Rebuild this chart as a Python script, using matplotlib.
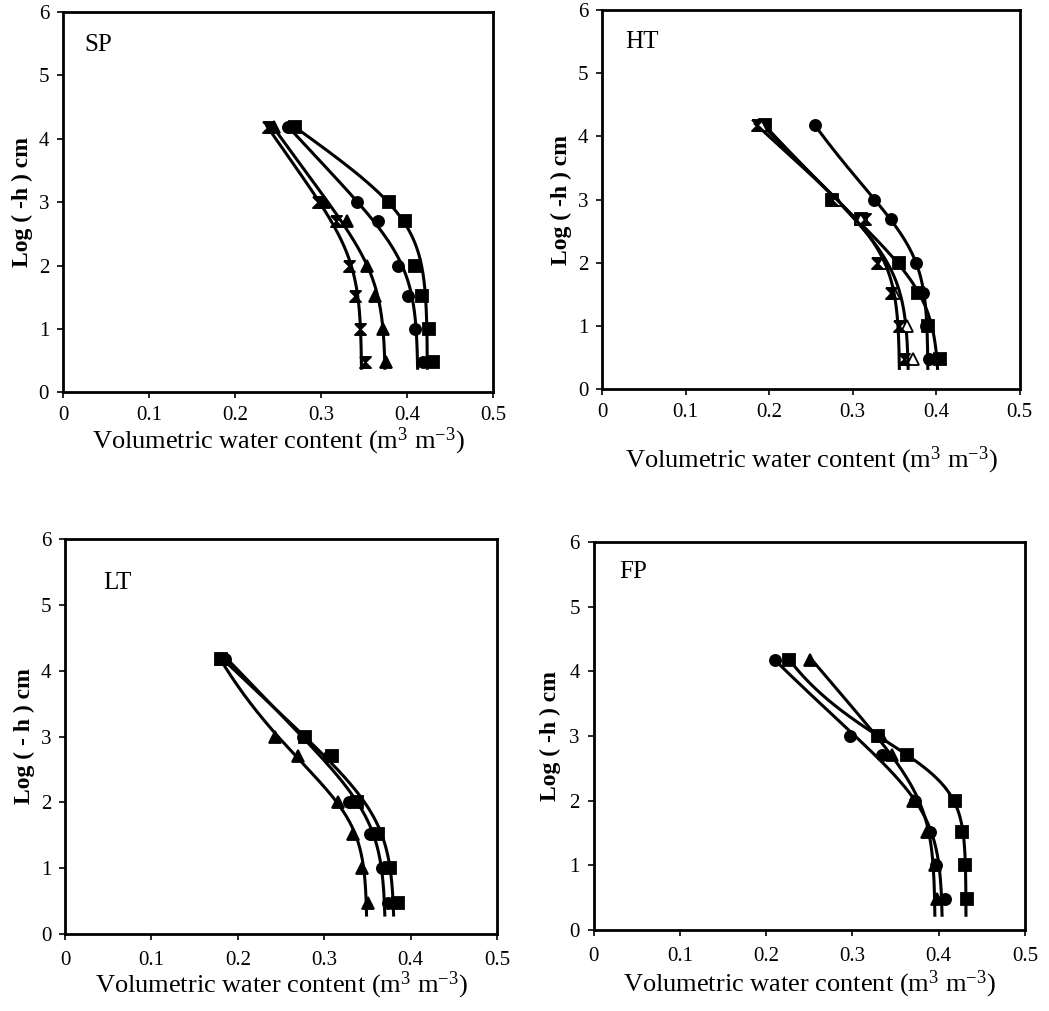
import numpy as np
import matplotlib
matplotlib.use("Agg")
import matplotlib.pyplot as plt

plt.rcParams['font.family'] = 'Liberation Serif'
plt.rcParams['mathtext.fontset'] = 'custom'
plt.rcParams['mathtext.rm'] = 'Liberation Serif'
plt.rcParams['mathtext.it'] = 'Liberation Serif:italic'

# suction levels, log10(-h) in cm (3, 10, 33, 100, 500, 1000, 15000 cm)
log_h = [0.48, 1.0, 1.52, 2.0, 2.7, 3.0, 4.18]

# SP
sp_square = [0.430, 0.426, 0.417, 0.409, 0.398, 0.379, 0.270]
sp_circle = [0.419, 0.409, 0.401, 0.390, 0.366, 0.342, 0.262]
sp_triangle = [0.376, 0.372, 0.363, 0.353, 0.330, 0.303, 0.245]
sp_star = [0.351, 0.345, 0.340, 0.332, 0.317, 0.296, 0.238]

# HT
ht_circle = [0.392, 0.388, 0.384, 0.376, 0.346, 0.325, 0.255]
ht_square = [0.405, 0.390, 0.378, 0.355, 0.310, 0.275, 0.195]
ht_triangle = [0.372, 0.365, 0.350, 0.335, 0.310, 0.280, 0.190]
ht_star = [0.362, 0.355, 0.346, 0.329, 0.315, 0.275, 0.185]

# LT
lt_square = [0.385, 0.376, 0.362, 0.338, 0.309, 0.278, 0.180]
lt_circle = [0.374, 0.367, 0.353, 0.328, 0.305, 0.275, 0.185]
lt_triangle = [0.351, 0.344, 0.333, 0.316, 0.270, 0.243, 0.180]

# FP
fp_square = [0.433, 0.430, 0.427, 0.419, 0.363, 0.330, 0.227]
fp_circle = [0.407, 0.397, 0.390, 0.372, 0.334, 0.297, 0.210]
fp_triangle = [0.398, 0.396, 0.386, 0.370, 0.346, 0.333, 0.251]

x_ticks = [0, 0.1, 0.2, 0.3, 0.4, 0.5]
x_tick_labels = ['0', '0.1', '0.2', '0.3', '0.4', '0.5']
y_ticks = [0, 1, 2, 3, 4, 5, 6]

# hourglass marker (x with bars), like the scanned "star" symbol
hourglass = [(-1, 1), (1, 1), (-1, -1), (1, -1), (-1, 1)]


def fit_vg(logh, theta):
    # van Genuchten fit: grid over alpha, n; theta_r, theta_s by least squares
    h = 10 ** np.asarray(logh)
    th = np.asarray(theta)
    la, nn = np.meshgrid(np.linspace(-4, 0.5, 181), np.linspace(1.02, 6, 250))
    a = 10 ** la.ravel()
    n = nn.ravel()
    S = (1 + (a[:, None] * h[None, :]) ** n[:, None]) ** (-(1 - 1 / n[:, None]))
    u = 1 - S
    v = S
    uu = (u * u).sum(1); uv = (u * v).sum(1); vv = (v * v).sum(1)
    ut = (u * th).sum(1); vt = (v * th).sum(1)
    det = uu * vv - uv ** 2
    det[np.abs(det) < 1e-12] = np.nan
    r = (vv * ut - uv * vt) / det
    s = (uu * vt - uv * ut) / det
    res = ((r[:, None] * u + s[:, None] * v - th[None, :]) ** 2).sum(1)
    res[~np.isfinite(res)] = np.inf
    k = np.argmin(res)
    return r[k], s[k], a[k], n[k]


def vg_curve(params, y):
    r, s, a, n = params
    h = 10 ** y
    return r + (s - r) * (1 + (a * h) ** n) ** (-(1 - 1 / n))


panels = [
    ('SP', [0.060, 0.612, 0.410, 0.376], 0.38, 'Log ( -h ) cm', (0.025, 5.48),
     [(sp_square, 's', 'k'), (sp_circle, 'o', 'k'), (sp_triangle, '^', 'k'), (sp_star, hourglass, 'k')]),
    ('HT', [0.574, 0.615, 0.398, 0.375], 0.33, 'Log ( -h ) cm', (0.028, 5.49),
     [(ht_circle, 'o', 'k'), (ht_square, 's', 'k'), (ht_triangle, '^', 'w'), (ht_star, hourglass, 'k')]),
    ('LT', [0.062, 0.076, 0.412, 0.391], 0.29, 'Log ( - h ) cm', (0.044, 5.33),
     [(lt_square, 's', 'k'), (lt_circle, 'o', 'k'), (lt_triangle, '^', 'k')]),
    ('FP', [0.566, 0.080, 0.411, 0.384], 0.23, 'Log ( -h ) cm', (0.030, 5.53),
     [(fp_square, 's', 'k'), (fp_circle, 'o', 'k'), (fp_triangle, '^', 'k')]),
]
xtick_pads = [6, 6, 8, 8]
xlabel_pads = [0, 16, 0, 2]
ylabel_pads = [4, 4, 4, 6]

fig = plt.figure(figsize=(10.49, 10.11), dpi=100)

for i, (name, rect, y_lo, ylab, tpos, series) in enumerate(panels):
    ax = fig.add_axes(rect)
    y_line = np.linspace(y_lo, 4.2, 200)
    for vals, mk, fc in series:
        p = fit_vg(log_h, vals)
        ax.plot(vg_curve(p, y_line), y_line, color='black', lw=2.2)
        ax.plot(vals, log_h, linestyle='none', marker=mk, markersize=8,
                markerfacecolor=fc, markeredgecolor='black', markeredgewidth=1.3)
    ax.set_xlim(0, 0.5)
    ax.set_ylim(0, 6)
    ax.set_xticks(x_ticks)
    ax.set_xticklabels(x_tick_labels)
    ax.set_yticks(y_ticks)
    ax.tick_params(direction='out', length=4, width=1.2, labelsize=15)
    ax.tick_params(axis='x', pad=xtick_pads[i])
    ax.tick_params(axis='y', pad=6)
    for sp in ax.spines.values():
        sp.set_linewidth(2.0)
    ax.text(tpos[0], tpos[1], name, fontsize=18, ha='left', va='center')
    ax.set_xlabel('Volumetric water content (m$^{3}$ m$^{-3}$)', fontsize=19,
                  labelpad=xlabel_pads[i])
    ax.set_ylabel(ylab, fontsize=17, fontweight='bold', labelpad=ylabel_pads[i])

fig.savefig('out.png', dpi=100)
